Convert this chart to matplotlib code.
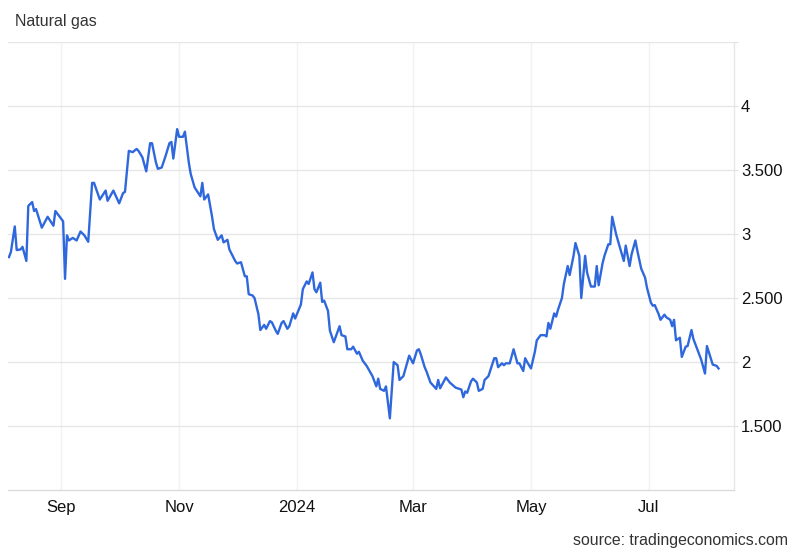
import matplotlib
matplotlib.use("Agg")
import matplotlib.pyplot as plt
import pandas as pd

plt.rcParams['font.family'] = ['Liberation Sans', 'DejaVu Sans']

dates = [
    "2023-08-05", "2023-08-06", "2023-08-08", "2023-08-09", "2023-08-11", "2023-08-12",
    "2023-08-14", "2023-08-15", "2023-08-17", "2023-08-18", "2023-08-19", "2023-08-22",
    "2023-08-25", "2023-08-28", "2023-08-29", "2023-09-01", "2023-09-02", "2023-09-03",
    "2023-09-04", "2023-09-05", "2023-09-07", "2023-09-09", "2023-09-11", "2023-09-13",
    "2023-09-15", "2023-09-17", "2023-09-18", "2023-09-21", "2023-09-24", "2023-09-25",
    "2023-09-28", "2023-10-01", "2023-10-03", "2023-10-04", "2023-10-06", "2023-10-08",
    "2023-10-10", "2023-10-11", "2023-10-13", "2023-10-15", "2023-10-17", "2023-10-18",
    "2023-10-20", "2023-10-21", "2023-10-23", "2023-10-25", "2023-10-27", "2023-10-28",
    "2023-10-29", "2023-10-31", "2023-11-01", "2023-11-03", "2023-11-04", "2023-11-06",
    "2023-11-07", "2023-11-09", "2023-11-12", "2023-11-13", "2023-11-14", "2023-11-16",
    "2023-11-18", "2023-11-19", "2023-11-21", "2023-11-23", "2023-11-24", "2023-11-26",
    "2023-11-27", "2023-11-30", "2023-12-01", "2023-12-03", "2023-12-05", "2023-12-06",
    "2023-12-07", "2023-12-09", "2023-12-10", "2023-12-12", "2023-12-13", "2023-12-15",
    "2023-12-16", "2023-12-18", "2023-12-19", "2023-12-21", "2023-12-22", "2023-12-24",
    "2023-12-25", "2023-12-27", "2023-12-28", "2023-12-30", "2023-12-31", "2024-01-03",
    "2024-01-04", "2024-01-06", "2024-01-07", "2024-01-09", "2024-01-10", "2024-01-11",
    "2024-01-13", "2024-01-14", "2024-01-15", "2024-01-17", "2024-01-18", "2024-01-20",
    "2024-01-23", "2024-01-24", "2024-01-26", "2024-01-27", "2024-01-29", "2024-01-30",
    "2024-02-01", "2024-02-02", "2024-02-04", "2024-02-06", "2024-02-09", "2024-02-11",
    "2024-02-12", "2024-02-13", "2024-02-15", "2024-02-16", "2024-02-18", "2024-02-20",
    "2024-02-22", "2024-02-23", "2024-02-25", "2024-02-28", "2024-03-01", "2024-03-03",
    "2024-03-04", "2024-03-05", "2024-03-07", "2024-03-08", "2024-03-10", "2024-03-13",
    "2024-03-14", "2024-03-15", "2024-03-18", "2024-03-20", "2024-03-23", "2024-03-25",
    "2024-03-26", "2024-03-27", "2024-03-28", "2024-03-29", "2024-03-31", "2024-04-01",
    "2024-04-03", "2024-04-04", "2024-04-06", "2024-04-07", "2024-04-09", "2024-04-12",
    "2024-04-13", "2024-04-14", "2024-04-16", "2024-04-17", "2024-04-18", "2024-04-20",
    "2024-04-22", "2024-04-24", "2024-04-25", "2024-04-27", "2024-04-28", "2024-04-29",
    "2024-05-01", "2024-05-03", "2024-05-04", "2024-05-06", "2024-05-08", "2024-05-09",
    "2024-05-10", "2024-05-11", "2024-05-13", "2024-05-14", "2024-05-15", "2024-05-17",
    "2024-05-18", "2024-05-20", "2024-05-21", "2024-05-23", "2024-05-24", "2024-05-26",
    "2024-05-27", "2024-05-29", "2024-05-30", "2024-06-01", "2024-06-03", "2024-06-04",
    "2024-06-05", "2024-06-07", "2024-06-08", "2024-06-10", "2024-06-11", "2024-06-12",
    "2024-06-14", "2024-06-16", "2024-06-18", "2024-06-19", "2024-06-21", "2024-06-22",
    "2024-06-24", "2024-06-25", "2024-06-27", "2024-06-29", "2024-06-30", "2024-07-02",
    "2024-07-03", "2024-07-04", "2024-07-06", "2024-07-07", "2024-07-09", "2024-07-10",
    "2024-07-12", "2024-07-13", "2024-07-14", "2024-07-15", "2024-07-17", "2024-07-18",
    "2024-07-20", "2024-07-21", "2024-07-23", "2024-07-24", "2024-07-27", "2024-07-28",
    "2024-07-30", "2024-07-31", "2024-08-02", "2024-08-03", "2024-08-05", "2024-08-06",
]

prices = [
    2.82, 2.86, 3.06, 2.875, 2.88, 2.90,
    2.79, 3.22, 3.25, 3.18, 3.195, 3.05,
    3.135, 3.065, 3.18, 3.12, 3.10, 2.65,
    2.99, 2.95, 2.97, 2.95, 3.02, 2.99,
    2.94, 3.40, 3.40, 3.27, 3.34, 3.26,
    3.34, 3.24, 3.32, 3.33, 3.65, 3.64,
    3.665, 3.65, 3.60, 3.49, 3.71, 3.71,
    3.56, 3.51, 3.52, 3.61, 3.71, 3.72,
    3.59, 3.82, 3.76, 3.76, 3.80, 3.56,
    3.47, 3.365, 3.295, 3.40, 3.27, 3.31,
    3.14, 3.04, 2.955, 2.99, 2.935, 2.955,
    2.88, 2.79, 2.77, 2.78, 2.67, 2.67,
    2.53, 2.52, 2.50, 2.375, 2.25, 2.29,
    2.26, 2.32, 2.31, 2.245, 2.22, 2.305,
    2.32, 2.26, 2.28, 2.38, 2.34, 2.45,
    2.57, 2.63, 2.61, 2.70, 2.57, 2.545,
    2.62, 2.47, 2.48, 2.40, 2.245, 2.155,
    2.28, 2.21, 2.20, 2.10, 2.10, 2.12,
    2.065, 2.08, 2.01, 1.97, 1.89, 1.81,
    1.87, 1.79, 1.775, 1.81, 1.56, 2.00,
    1.975, 1.86, 1.89, 2.05, 1.99, 2.09,
    2.10, 2.06, 1.96, 1.925, 1.84, 1.79,
    1.86, 1.795, 1.88, 1.84, 1.80, 1.79,
    1.785, 1.725, 1.77, 1.76, 1.85, 1.87,
    1.84, 1.775, 1.79, 1.86, 1.89, 2.03,
    2.03, 1.96, 1.99, 1.975, 1.99, 1.99,
    2.10, 1.99, 1.99, 1.93, 2.03, 2.00,
    1.95, 2.08, 2.17, 2.21, 2.21, 2.20,
    2.305, 2.26, 2.38, 2.355, 2.41, 2.50,
    2.61, 2.75, 2.68, 2.83, 2.93, 2.83,
    2.50, 2.83, 2.70, 2.59, 2.59, 2.75,
    2.60, 2.77, 2.83, 2.92, 2.92, 3.135,
    3.00, 2.895, 2.79, 2.91, 2.75, 2.84,
    2.95, 2.87, 2.73, 2.66, 2.58, 2.465,
    2.44, 2.445, 2.375, 2.33, 2.37, 2.35,
    2.33, 2.28, 2.33, 2.17, 2.19, 2.04,
    2.12, 2.125, 2.25, 2.18, 2.06, 2.02,
    1.91, 2.125, 2.03, 1.98, 1.97, 1.95,
]

x_tick_dates = ["2023-09-01", "2023-11-01", "2024-01-01", "2024-03-01", "2024-05-01", "2024-07-01"]
x_tick_labels = ["Sep", "Nov", "2024", "Mar", "May", "Jul"]
y_ticks = [1.5, 2.0, 2.5, 3.0, 3.5, 4.0, 4.5]
y_tick_labels = ["1.500", "2", "2.500", "3", "3.500", "4", ""]

title = "Natural gas"
source = "source: tradingeconomics.com"

d = pd.to_datetime(dates)

fig = plt.figure(figsize=(8.0, 5.54), dpi=100)
ax = fig.add_axes([0.01, 0.1155, 0.9075, 0.8085])

ax.plot(d, prices, color="#2f68dd", linewidth=1.7, solid_joinstyle="round", zorder=3)

ax.set_xlim(pd.Timestamp("2023-08-04 12:00"), pd.Timestamp("2024-08-14"))
ax.set_ylim(1.0, 4.5)

ax.set_xticks(pd.to_datetime(x_tick_dates))
ax.set_xticklabels(x_tick_labels)
ax.set_yticks(y_ticks)
ax.set_yticklabels(y_tick_labels)

ax.yaxis.tick_right()
ax.tick_params(axis="y", which="both", length=3, color="#e2e2e2", pad=2,
               labelsize=12, labelcolor="#111111")
ax.tick_params(axis="x", which="both", length=0, pad=7,
               labelsize=12, labelcolor="#111111")

ax.grid(axis="y", color="#e6e6e6", linewidth=1.0)
ax.grid(axis="x", color="#f2f2f2", linewidth=1.0)
ax.set_axisbelow(True)

for side in ["left", "top"]:
    ax.spines[side].set_visible(False)
ax.spines["right"].set_color("#e6e6e6")
ax.spines["right"].set_linewidth(1.0)
ax.spines["bottom"].set_color("#dcdcdc")
ax.spines["bottom"].set_linewidth(1.0)

fig.text(0.019, 0.962, title, fontsize=11.5, color="#333333", ha="left", va="center")
fig.text(0.985, 0.024, source, fontsize=11.4, color="#333333", ha="right", va="center")

fig.savefig("out.png", dpi=100, facecolor="white")
